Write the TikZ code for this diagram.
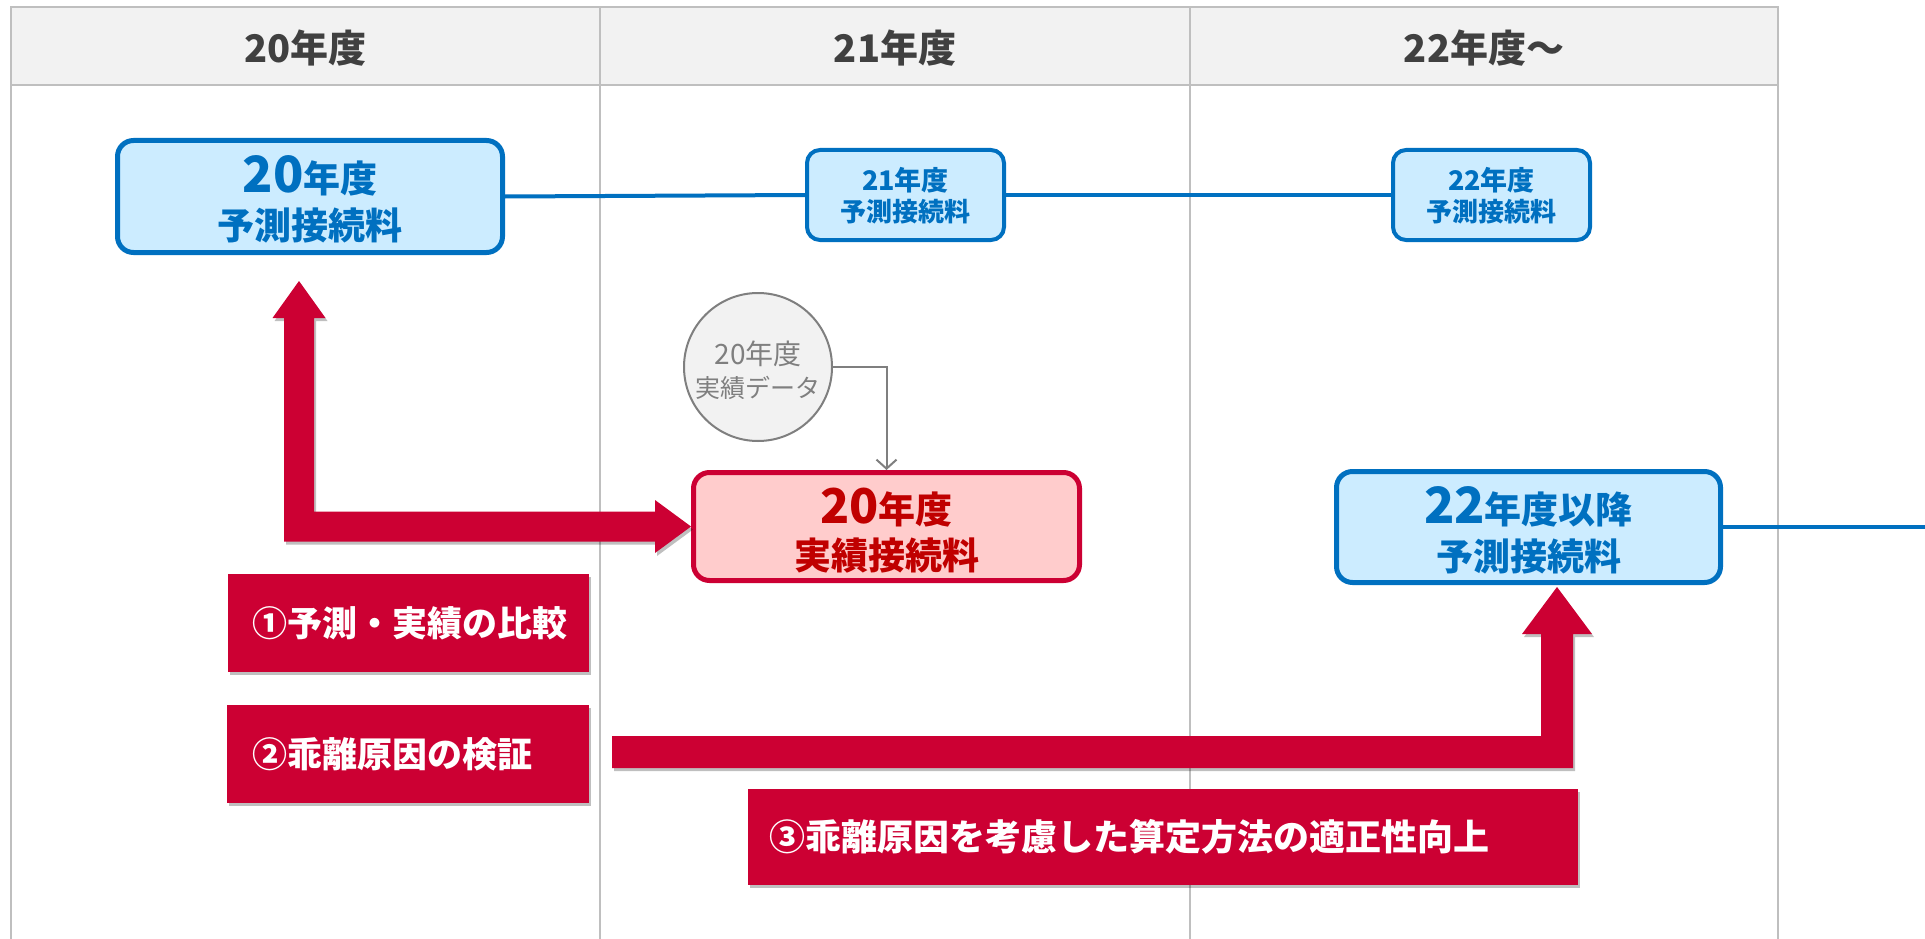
\documentclass[tikz,border=0pt]{standalone}
\usepackage{fontspec}
\setmainfont{Noto Sans CJK JP}
\usetikzlibrary{arrows.meta,shadows,calc}
\definecolor{hdrfill}{HTML}{F2F2F2}
\definecolor{gridc}{HTML}{BFBFBF}
\definecolor{blu}{HTML}{0070C0}
\definecolor{lblu}{HTML}{CCECFF}
\definecolor{crim}{HTML}{CC0033}
\definecolor{pinkf}{HTML}{FFCCCC}
\definecolor{dred}{HTML}{C00000}
\definecolor{hdrtxt}{HTML}{404040}
\definecolor{gtxt}{HTML}{7F7F7F}
\newcommand{\fs}[1]{\fontsize{#1}{#1}\selectfont}
\tikzset{
  gridline/.style={draw=gridc, line width=2.5pt},
  hdr/.style={anchor=base, inner sep=0pt, text=hdrtxt, font=\bfseries\fs{38}},
  bluebox/.style={draw=blu, fill=lblu, rounded corners=16pt, inner sep=0pt},
  redbox/.style={draw=crim, fill=pinkf, line width=5pt, rounded corners=16pt, inner sep=0pt},
  btext/.style={anchor=base, inner sep=0pt, text=blu, font=\bfseries},
  rtext/.style={anchor=base, inner sep=0pt, text=dred, font=\bfseries},
  gtext/.style={anchor=base, inner sep=0pt, text=gtxt},
  bline/.style={draw=blu, line width=4pt},
  gline/.style={draw=gtxt, line width=2pt},
  shad/.style={drop shadow={shadow xshift=2pt, shadow yshift=-3pt, opacity=0.25, fill=black}},
  labbox/.style={fill=crim, inner sep=0pt, shad},
  labtext/.style={anchor=west, inner sep=0pt, text=white, font=\bfseries\fs{35}},
  redarrow/.style={fill=crim, shad}
}
\begin{document}
\begin{tikzpicture}[x=1pt,y=-1pt]
\clip (0,0) rectangle (1925,939);
\fill[white] (0,0) rectangle (1925,939);
% table
\fill[hdrfill] (11,7) rectangle (1778,85);
\draw[gridline] (11,950) -- (11,7) -- (1778,7) -- (1778,950);
\draw[gridline] (11,85) -- (1778,85);
\draw[gridline] (600,7) -- (600,950);
\draw[gridline] (1190,7) -- (1190,950);
\node[hdr] (h1) at (305.5,63) {20年度};
\node[hdr] (h2) at (895,63) {21年度};
\node[hdr] (h3) at (1484,63) {22年度～};

% forecast boxes
\node[bluebox, line width=5pt, minimum width=385pt, minimum height=112pt] (p20) at (310,196.5) {};
\node[btext] (p20a) at (310,193) {{\fs{50}20}{\fs{37}年度}};
\node[btext, font=\bfseries\fs{37}] (p20b) at (310,239) {予測接続料};

\node[bluebox, line width=4pt, rounded corners=13pt, minimum width=197pt, minimum height=90pt] (p21) at (905.5,195) {};
\node[btext, font=\bfseries\fs{27}] (p21a) at (905.5,190) {21年度};
\node[btext, font=\bfseries\fs{26}] (p21b) at (905.5,221) {予測接続料};

\node[bluebox, line width=4pt, rounded corners=13pt, minimum width=197pt, minimum height=90pt] (p22) at (1491.5,195) {};
\node[btext, font=\bfseries\fs{27}] (p22a) at (1491.5,190) {22年度};
\node[btext, font=\bfseries\fs{26}] (p22b) at (1491.5,221) {予測接続料};

\node[bluebox, line width=5pt, minimum width=384pt, minimum height=111pt] (p22l) at (1528.5,527) {};
\node[btext] (p22la) at (1528.5,523) {{\fs{50}22}{\fs{37}年度以降}};
\node[btext, font=\bfseries\fs{37}] (p22lb) at (1528.5,570) {予測接続料};

% actual box
\node[redbox, minimum width=386pt, minimum height=108pt] (jis) at (886.5,526.5) {};
\node[rtext] (jisa) at (886.5,523) {{\fs{48}20}{\fs{37}年度}};
\node[rtext, font=\bfseries\fs{37}] (jisb) at (886.5,569.5) {実績接続料};

% data circle
\node[circle, draw=gtxt, fill=hdrfill, line width=2pt, minimum size=148pt, inner sep=0pt] (dat) at (758,367) {};
\node[gtext, font=\fs{28}] (data) at (758,364) {20年度};
\node[gtext, font=\fs{25}] (datb) at (758,397.5) {実績データ};

% connectors
\coordinate (rightend) at (1925,527);
\draw[bline] (p20.east) -- (p21.west);
\draw[bline] (p21.east) -- (p22.west);
\draw[bline, line width=3.5pt] (p22l.east) -- (rightend);
\draw[gline, -{Straight Barb[length=9pt,width=20pt]}] (dat.east) -| (jis.north);

% red block arrow 1
\coordinate (a1tip) at (299,281);
\fill[redarrow] (a1tip) -- ++(26.5,37) -- ++(-11.5,0)
  |- ($(jis.west)+(-36,-15)$) -- ++(0,-11.5) -- (jis.west)
  -- ++(-36,26.5) -- ++(0,-11.5) -| ($(a1tip)+(-15,37)$) -- ++(-11.5,0) -- cycle;

% red block arrow 2
\coordinate (a2tip) at (1557,587);
\coordinate (a2start) at (612,752);
\fill[redarrow] (a2tip) -- ++(35,47) -- ++(-19,0)
  |- ($(a2start)+(0,16)$) -- ++(0,-32) -| ($(a2tip)+(-16,47)$) -- ++(-19,0) -- cycle;

% labels
\node[labbox, minimum width=361pt, minimum height=98pt] (l1) at (408.5,623) {};
\node[labtext] (l1t) at ($(l1.west)+(24,0)$) {①予測・実績の比較};
\node[labbox, minimum width=362pt, minimum height=98pt] (l2) at (408,754) {};
\node[labtext] (l2t) at ($(l2.west)+(25,0)$) {②乖離原因の検証};
\node[labbox, minimum width=830pt, minimum height=96pt] (l3) at (1163,837) {};
\node[labtext, font=\bfseries\fs{36}] (l3t) at ($(l3.west)+(21,0)$) {③乖離原因を考慮した算定方法の適正性向上};
\end{tikzpicture}
\end{document}
